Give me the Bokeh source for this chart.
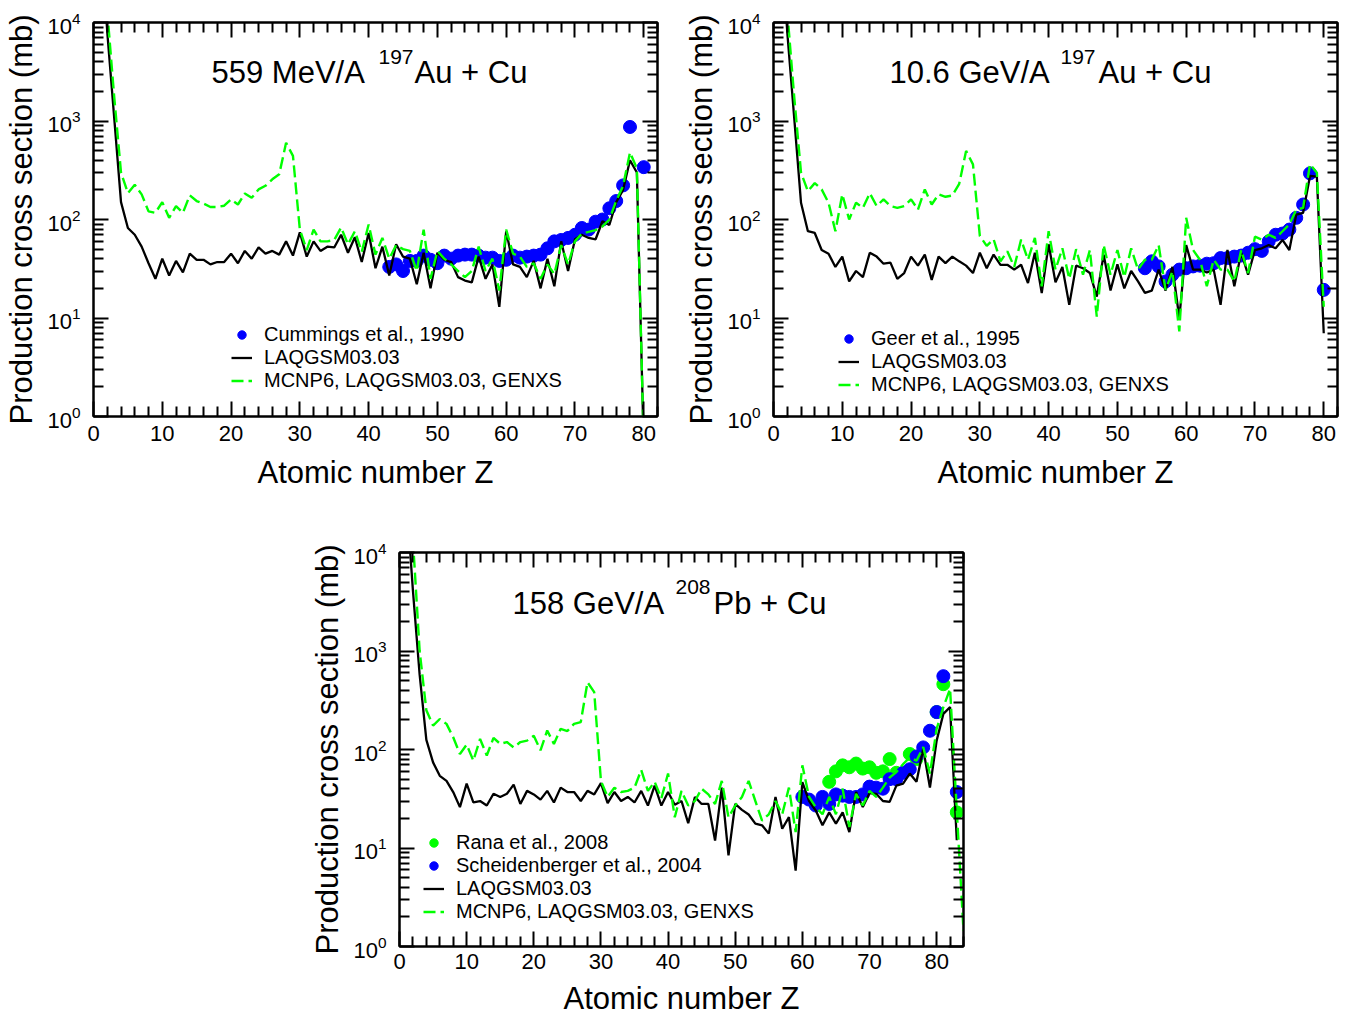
import math
from bokeh.plotting import figure
from bokeh.models import (Range1d, FixedTicker, LinearAxis, LogAxis, Label,
                          Legend, LegendItem, Spacer, CustomJSTickFormatter)
from bokeh.layouts import column, row
from bokeh.embed import file_html
from bokeh.resources import INLINE

FONT = "Liberation Sans"
BLUE = "#0000ff"
GREEN = "#00ff00"

# ---------------- ticks ----------------
x_major = [0, 10, 20, 30, 40, 50, 60, 70, 80]
x_minor = [2, 4, 6, 8, 12, 14, 16, 18, 22, 24, 26, 28, 32, 34, 36, 38, 42, 44, 46, 48,
           52, 54, 56, 58, 62, 64, 66, 68, 72, 74, 76, 78, 82, 84]
y_major = [1, 10, 100, 1000, 10000]
y_minor = [m * d for d in [1, 10, 100, 1000] for m in [2, 3, 4, 5, 6, 7, 8, 9]]

# ---------------- panel A: 559 MeV/A 197Au + Cu ----------------
z_a = list(range(1, 81))
laq_a = [1e5, 8000, 1100, 150, 82, 70, 53, 36, 25, 40,
         27, 38, 29, 45, 39, 39, 35, 37, 37, 45,
         36, 48, 40, 52, 45, 48, 44, 60, 43, 74,
         42, 60, 48, 53, 52, 70, 46, 66, 37, 73,
         32, 53, 27, 56, 42, 40, 22, 46, 20, 46,
         39, 37, 26, 24, 23, 42, 25, 35, 13, 76,
         35, 33, 26, 38, 20, 40, 21, 60, 30, 63,
         70, 65, 63, 96, 88, 150, 200, 400, 300, 0.5]
mcnp_a = [1e5, 13000, 1800, 300, 185, 225, 180, 121, 117, 150,
          104, 137, 117, 176, 154, 145, 134, 134, 138, 160,
          142, 184, 166, 202, 220, 256, 288, 600, 443, 79,
          49, 79, 60, 60, 62, 83, 56, 76, 47, 89,
          44, 65, 40, 55, 50, 48, 30, 79, 25, 48,
          40, 35, 30, 26, 30, 53, 30, 40, 19, 79,
          45, 42, 33, 36, 25, 35, 28, 55, 35, 60,
          72, 75, 78, 85, 100, 155, 220, 480, 330, 0.5]
cummings_z = [43, 44, 45, 46, 47, 48, 49, 50, 51, 52,
              53, 54, 55, 56, 57, 58, 59, 60, 61, 62,
              63, 64, 65, 66, 67, 68, 69, 70, 71, 72,
              73, 74, 75, 76, 77, 78, 80]
cummings_v = [33, 35, 30, 38, 38, 43, 39, 36, 43, 40,
              43, 44, 44, 43, 41, 41, 38, 39, 43, 41,
              42, 43, 44, 51, 60, 62, 65, 70, 82, 79,
              95, 100, 130, 154, 222, 870, 340]

# ---------------- panel B: 10.6 GeV/A 197Au + Cu ----------------
z_b = list(range(1, 81))
laq_b = [1e5, 8000, 1100, 148, 76, 73, 49, 45, 33, 42,
         23.5, 30, 26, 46, 42, 35.6, 36.5, 25, 28.6, 42,
         34, 44, 24.4, 42, 36, 42, 37.6, 34, 28.6, 46,
         32, 44, 34.7, 34.7, 31, 34.7, 22.6, 46, 17.9, 56,
         23, 33, 13.6, 34, 32, 28.6, 16.5, 44, 19, 35,
         20, 30, 23.5, 18, 19, 31, 19, 33, 10, 55,
         31, 31, 29, 31, 13.6, 49, 21, 46, 27.5, 49,
         51, 55, 51, 62, 49, 112, 117, 277, 272, 7]
mcnp_b = [1e5, 13000, 1800, 300, 194, 234, 202, 148, 76, 180,
          100, 148, 131, 185, 137, 160, 137, 131, 137, 160,
          126, 202, 142, 180, 170, 175, 230, 497, 363, 68,
          54, 63, 37.6, 47.5, 33, 62.5, 39, 65, 21, 76,
          31, 51, 25, 50, 27.5, 49, 10.3, 55, 27.5, 49,
          26, 51, 31, 39, 39, 55, 19.3, 29.7, 7.3, 104,
          49, 39, 21, 39, 31, 31, 23.5, 49, 28.6, 67,
          62.5, 70, 65, 76, 89, 126, 131, 364, 299, 13]
geer_z = [54, 55, 56, 57, 58, 59, 60, 61, 62, 63,
          64, 65, 66, 67, 68, 69, 70, 71, 72, 73,
          74, 75, 76, 77, 78, 80]
geer_v = [32, 37.6, 33.4, 23.5, 27.5, 31, 32, 33.4, 34, 35.6,
          36, 40.6, 40.6, 42, 43, 46, 50, 48, 60, 70,
          72, 79, 104, 142, 294, 19.3]

# ---------------- panel C: 158 GeV/A 208Pb + Cu ----------------
z_c_laq = list(range(1, 84))
laq_c = [38000, 4100, 575, 125, 74, 54, 48, 37, 26, 45,
         29, 30, 27, 35.5, 33, 35.5, 44, 28, 38, 35,
         31, 38, 29, 41, 37, 37, 30, 38, 35, 45.5,
         28.5, 37, 30, 33, 29, 38, 27, 43, 27, 37,
         27.5, 30, 17.9, 33, 28, 28, 11.9, 41, 8.4, 28,
         24.4, 21.9, 17.7, 17, 14, 33, 15.7, 20.6, 5.9, 46.6,
         30, 24, 17, 23, 17.7, 23, 14.5, 37, 26, 36,
         35.5, 30, 29.4, 43, 45, 57, 47, 102, 41, 123,
         230, 269, 12]
z_c_mc = list(range(1, 85))
mcnp_c = [1e5, 13500, 1000, 250, 175, 204, 182, 133, 90, 112,
          77, 128, 87, 131, 114, 119, 105, 119, 123, 138,
          98, 156, 114, 162, 154, 182, 190, 482, 382, 48,
          33, 41, 37, 38, 41, 62, 38, 47, 32, 57,
          20.5, 38, 27, 30, 40, 35, 28, 48, 20.5, 27,
          33, 48, 30, 19, 22, 30, 22, 41, 14.5, 69,
          33, 26, 22, 33, 22, 40, 16.3, 35.5, 27, 38,
          33, 41, 52, 59, 71, 83, 77, 106, 57, 162,
          269, 413, 24, 1.45]
rana_z = [64, 65, 66, 67, 68, 69, 70, 71, 72, 73, 74, 76, 77, 80, 81, 83]
rana_v = [47, 60, 69, 66, 72, 64, 66, 58, 60, 80, 58, 90, 80, 240, 460, 23]
scheid_z = [60, 61, 62, 63, 64, 65, 66, 67, 68, 69,
            70, 71, 72, 73, 74, 75, 76, 77, 78, 79,
            80, 81, 83]
scheid_v = [33, 31, 27, 33, 28, 35, 34, 33, 33, 35,
            42, 41, 40, 50, 50, 58, 63, 85, 105, 155,
            240, 555, 37]


def style_axis(ax, show_labels, label_standoff=6):
    ax.axis_line_width = 2
    ax.axis_line_color = "black"
    ax.major_tick_in = 15
    ax.major_tick_out = 0
    ax.minor_tick_in = 10
    ax.minor_tick_out = 0
    ax.major_tick_line_width = 2
    ax.minor_tick_line_width = 2
    ax.major_tick_line_color = "black"
    ax.minor_tick_line_color = "black"
    ax.major_label_text_font = FONT
    ax.major_label_text_font_size = "22px"
    ax.major_label_text_color = "black"
    ax.axis_label_text_font = FONT
    ax.axis_label_text_font_size = "31px"
    ax.axis_label_text_font_style = "normal"
    ax.axis_label_text_color = "black"
    if show_labels:
        ax.major_label_standoff = label_standoff
    else:
        ax.axis_label = None
        ax.formatter = CustomJSTickFormatter(code="return ''")
        ax.major_label_text_color = None
        ax.major_label_standoff = 0


def make_panel(width, height, borders, xmax, title_parts, exp_sets,
               laq_z, laq_v, mc_z, mc_v, legend_loc, x_std):
    left, right, top, bottom = borders
    p = figure(width=width, height=height,
               x_range=Range1d(0, xmax), y_range=Range1d(1, 1e4),
               y_axis_type="log", output_backend="svg", toolbar_location=None,
               min_border_left=left, min_border_right=right,
               min_border_top=top, min_border_bottom=bottom,
               x_axis_label="Atomic number Z",
               y_axis_label="Production cross section (mb)")
    p.xgrid.visible = False
    p.ygrid.visible = False
    p.outline_line_color = "black"
    p.outline_line_width = 2
    p.background_fill_color = "white"
    p.border_fill_color = "white"

    xt = FixedTicker(ticks=x_major, minor_ticks=[m for m in x_minor if m <= xmax])
    yt = FixedTicker(ticks=y_major, minor_ticks=y_minor)
    bottom_ax = p.below[0]
    left_ax = p.left[0]
    bottom_ax.ticker = xt
    left_ax.ticker = yt
    style_axis(bottom_ax, True, x_std[0])
    bottom_ax.axis_label_standoff = x_std[1]
    style_axis(left_ax, True, 13)
    left_ax.axis_label_standoff = 5
    top_ax = LinearAxis(ticker=xt)
    right_ax = LogAxis(ticker=yt)
    style_axis(top_ax, False)
    style_axis(right_ax, False)
    p.add_layout(top_ax, "above")
    p.add_layout(right_ax, "right")

    items = []
    for zs, vs, color, lab in exp_sets:
        r = p.scatter(zs, vs, size=13, marker="circle", fill_color=color, line_color=color)
        items.append(LegendItem(label=lab, renderers=[r]))
    r_laq = p.line(laq_z, laq_v, line_color="black", line_width=2.3)
    r_mc = p.line(mc_z, mc_v, line_color=GREEN, line_width=2.4, line_dash="12 5")
    items.append(LegendItem(label="LAQGSM03.03", renderers=[r_laq]))
    items.append(LegendItem(label="MCNP6, LAQGSM03.03, GENXS", renderers=[r_mc]))

    legend = Legend(items=items, location=legend_loc,
                    label_text_font=FONT, label_text_font_size="20px",
                    label_text_color="black",
                    glyph_width=21, glyph_height=23, label_height=23,
                    label_standoff=12, spacing=0, padding=0, margin=0,
                    border_line_color=None, background_fill_alpha=0)
    p.add_layout(legend)

    # title pieces (y = vertical centre of the text, measured up from the frame bottom)
    (t1, x1, sup, x2, t2, x3, base_y, sup_y) = title_parts
    p.add_layout(Label(x=x1, y=base_y, x_units="screen", y_units="screen", text=t1,
                       text_font=FONT, text_font_size="31px", text_color="black",
                       text_baseline="middle", text_align="left"))
    p.add_layout(Label(x=x2, y=sup_y, x_units="screen", y_units="screen", text=sup,
                       text_font=FONT, text_font_size="21px", text_color="black",
                       text_baseline="middle", text_align="left"))
    p.add_layout(Label(x=x3, y=base_y, x_units="screen", y_units="screen", text=t2,
                       text_font=FONT, text_font_size="31px", text_color="black",
                       text_baseline="middle", text_align="left"))
    return p


p1 = make_panel(680, 536, (93, 23, 22, 120), 82,
                ("559 MeV/A", 118, "197", 285, "Au + Cu", 321, 344, 360),
                [(cummings_z, cummings_v, BLUE, "Cummings et al., 1990")],
                z_a, laq_a, z_a, mcnp_a, (138, 24), (9, 11))
p2 = make_panel(672, 536, (93, 15, 22, 120), 82,
                ("10.6 GeV/A", 116, "197", 287, "Au + Cu", 325, 344, 360),
                [(geer_z, geer_v, BLUE, "Geer et al., 1995")],
                z_b, laq_b, z_b, mcnp_b, (65, 20), (9, 11))
p3 = make_panel(673, 483, (95, 14, 16, 73), 84,
                ("158 GeV/A", 113, "208", 276, "Pb + Cu", 314, 343, 360),
                [(rana_z, rana_v, GREEN, "Rana et al., 2008"),
                 (scheid_z, scheid_v, BLUE, "Scheidenberger et al., 2004")],
                z_c_laq, laq_c, z_c_mc, mcnp_c, (24, 23), (7, 9))

layout = column(row(p1, p2), row(Spacer(width=304, height=483), p3))

with open("out.html", "w") as f:
    f.write(file_html(layout, INLINE))
